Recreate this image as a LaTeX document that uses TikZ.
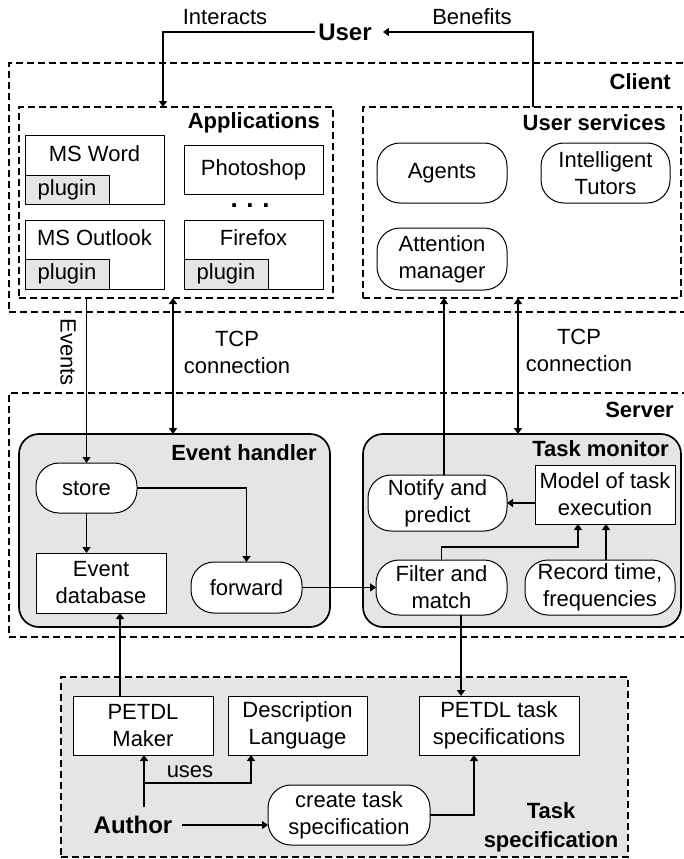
\documentclass[tikz,border=0pt]{standalone}
\usepackage{fontspec}
\setmainfont{Liberation Sans}
\usetikzlibrary{arrows.meta}
\definecolor{lg}{HTML}{E5E5E5}
\begin{document}
\begin{tikzpicture}[x=1pt,y=-1pt,
  fnt/.style={font=\fontsize{22}{27}\selectfont},
  bfnt/.style={font=\fontsize{22}{29}\selectfont\bfseries},
  txt/.style={fnt, inner sep=0pt, align=center},
  blab/.style={bfnt, inner sep=0pt, align=center},
  sqbox/.style={draw, line width=1pt, fill=white, inner sep=0pt, outer sep=0pt, align=center, fnt},
  rbox/.style={sqbox, rounded corners=23pt},
  plug/.style={sqbox, fill=lg},
  grp/.style={draw, line width=1.9pt, dash pattern=on 7pt off 4pt, inner sep=0pt, outer sep=0pt},
  gbox/.style={draw, line width=1.7pt, fill=lg, rounded corners=20pt, inner sep=0pt, outer sep=0pt},
  arr/.style={line width=1.8pt, -{Triangle[length=6pt,width=8pt]}},
  darr/.style={line width=1.8pt, {Triangle[length=6pt,width=8pt]}-{Triangle[length=6pt,width=8pt]}}
]
\useasboundingbox (0,0) rectangle (683,859);
\fill[white] (0,0) rectangle (683,859);

% containers
\node[grp, minimum width=691pt, minimum height=249pt] (client) at (354.5,187.5) {};
\node[grp, minimum width=691pt, minimum height=244pt] (server) at (354.5,515) {};
\node[grp, minimum width=314pt, minimum height=191pt] (apps) at (176,202.5) {};
\node[grp, minimum width=318pt, minimum height=191pt] (svc) at (522,202.5) {};
\node[gbox, minimum width=311pt, minimum height=193pt] (eh) at (174.5,530.5) {};
\node[gbox, minimum width=318pt, minimum height=193pt] (tm) at (522,530.5) {};
\node[grp, fill=lg, minimum width=567pt, minimum height=180pt] (ts) at (344.5,767) {};

% container labels
\node[blab, anchor=east] (clientl) at (671,82) {Client};
\node[blab, anchor=east] (appsl) at (320,123) {Applications};
\node[blab, anchor=east] (svcl) at (666,123) {User services};
\node[blab, anchor=east] (serverl) at (674,410) {Server};
\node[blab, anchor=east] (ehl) at (317,453) {Event handler};
\node[blab, anchor=east] (tml) at (669,449) {Task monitor};
\node[blab] (tsl) at (551,827.5) {Task\\specification};

% user / author
\node[font=\fontsize{24}{28}\selectfont\bfseries, inner sep=3pt] (user) at (345,32) {User};
\node[font=\fontsize{24}{28}\selectfont\bfseries, inner sep=3pt] (author) at (133,825) {Author};
\node[txt] (interacts) at (225,17) {Interacts};
\node[txt] (benefits) at (472,17) {Benefits};

% applications
\node[sqbox, minimum width=139pt, minimum height=69pt] (word) at (94.5,169.5) {};
\node[txt] (wordt) at (94.5,154) {MS Word};
\node[plug, minimum width=84pt, minimum height=29pt] (plug1) at (67,189.5) {plugin};
\node[sqbox, minimum width=139pt, minimum height=49pt] (photo) at (253.5,169.5) {Photoshop};
\node[txt, font=\fontsize{26}{27}\selectfont\bfseries] (dots) at (250,206) {.\,\,.\,\,.};
\node[sqbox, minimum width=139pt, minimum height=69pt] (outlook) at (94.5,254.5) {};
\node[txt] (outlookt) at (94.5,238) {MS Outlook};
\node[plug, minimum width=84pt, minimum height=30pt] (plug2) at (67,274) {plugin};
\node[sqbox, minimum width=139pt, minimum height=69pt] (firefox) at (253.5,254.5) {};
\node[txt] (firefoxt) at (253.5,238) {Firefox};
\node[plug, minimum width=84pt, minimum height=30pt] (plug3) at (226,274) {plugin};

% user services
\node[rbox, minimum width=130pt, minimum height=60pt] (agents) at (442,173) {Agents};
\node[rbox, minimum width=129pt, minimum height=60pt] (tutors) at (605.5,173) {Intelligent\\Tutors};
\node[rbox, minimum width=130pt, minimum height=62pt] (attn) at (442,259) {Attention\\manager};

% event handler
\node[rbox, minimum width=101pt, minimum height=50pt] (store) at (86.5,488) {store};
\node[sqbox, minimum width=130pt, minimum height=60pt] (edb) at (101,583) {Event\\database};
\node[rbox, minimum width=111pt, minimum height=51pt] (fwd) at (246.5,587.5) {forward};

% task monitor
\node[rbox, minimum width=139pt, minimum height=56pt] (notify) at (437.5,503) {Notify and\\predict};
\node[sqbox, minimum width=140pt, minimum height=59pt] (model) at (605,494.5) {Model of task\\execution};
\node[rbox, minimum width=131pt, minimum height=55pt] (filter) at (441.5,587.5) {Filter and\\match};
\node[rbox, minimum width=150pt, minimum height=55pt] (record) at (600,587.5) {Record time,\\frequencies};

% task specification
\node[sqbox, minimum width=140pt, minimum height=59pt] (pm) at (143,725.5) {PETDL\\Maker};
\node[sqbox, minimum width=139pt, minimum height=59pt] (dl) at (297.5,725.5) {Description\\Language};
\node[sqbox, minimum width=160pt, minimum height=59pt] (ptask) at (499,725.5) {PETDL task\\specifications};
\node[rbox, minimum width=162pt, minimum height=60pt] (create) at (349,815) {create task\\specification};

% middle labels
\node[txt] (tcp1) at (237,352) {TCP\\connection};
\node[txt] (tcp2) at (579,350) {TCP\\connection};
\node[txt, rotate=-90] (events) at (68,352) {Events};
\node[txt] (uses) at (190,772) {uses};

% connectors
\draw[arr] (user.west) -| ([xshift=-13pt]apps.north);
\draw[arr, shorten >=8pt] ([xshift=11pt]svc.north) |- (user.east);
\draw[arr] (store.north |- apps.south) -- (store.north);
\draw[darr] ([xshift=-3pt]apps.south) -- ([xshift=-1.5pt]eh.north);
\draw[arr] ([xshift=6.5pt]notify.north) -- ([xshift=6.5pt]notify.north |- svc.south);
\draw[darr] ([xshift=-4pt]svc.south) -- ([xshift=-4pt]tm.north);
\draw[arr] (store.south) -- (store.south |- edb.north);
\draw[arr] (store.east) -| (fwd.north);
\draw[arr] (fwd.east) -- (filter.west);
\draw[arr] (model.west |- notify.east) -- (notify.east);
\draw[arr] (filter.north) -- ++(0,-13) -| ([xshift=-27pt]model.south);
\draw[arr] ([xshift=1pt]model.south |- record.north) -- ([xshift=1pt]model.south);
\draw[arr] ([xshift=19.5pt]filter.south) -- ([xshift=19.5pt]filter.south |- ptask.north);
\draw[arr] ([xshift=-23pt]pm.north) -- ([xshift=-23pt]pm.north |- edb.south);
\coordinate (authtop) at (144,807);
\coordinate (usesb) at (144,783);
\draw[arr] (authtop) -- (authtop |- pm.south);
\draw[arr] (usesb) -| ([xshift=-46.5pt]dl.south);
\draw[arr, shorten <=6pt] (author.east) -- (author.east -| create.west);
\draw[arr] (create.east) -| ([xshift=-25pt]ptask.south);
\end{tikzpicture}
\end{document}
